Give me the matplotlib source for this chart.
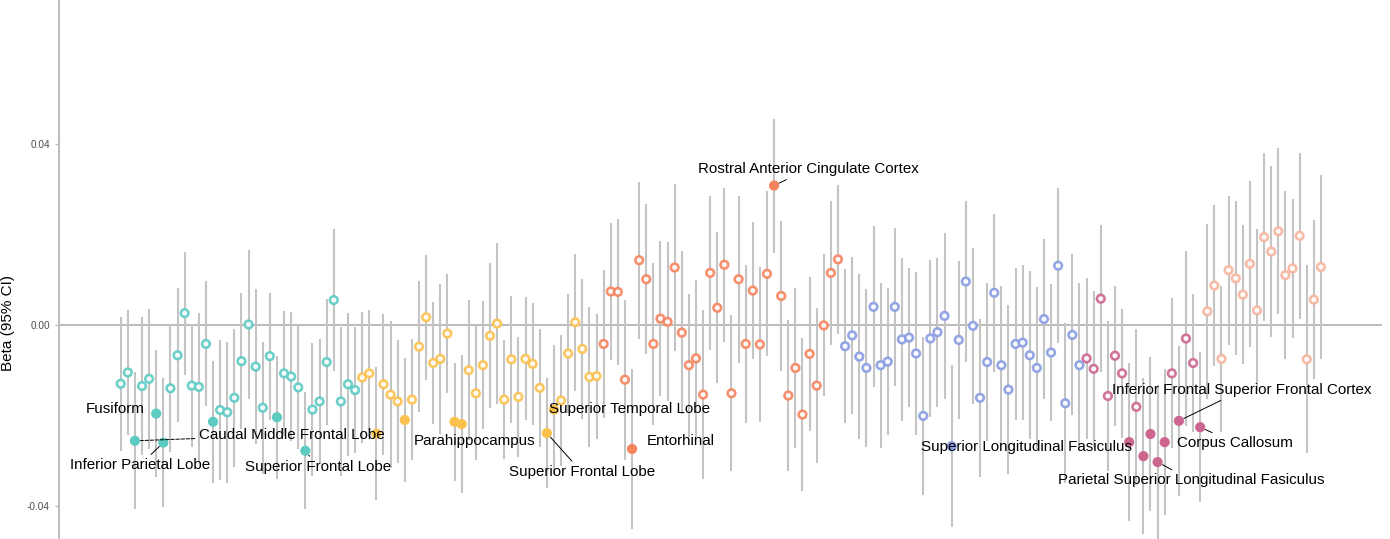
import numpy as np
import matplotlib
matplotlib.use("Agg")
import matplotlib.pyplot as plt

plt.rcParams["font.family"] = ["Liberation Sans", "DejaVu Sans"]

# region groups (in plotting order)
groups = ["teal", "yellow", "orange", "blue", "pink", "salmon"]
group_sizes = [34, 34, 34, 34, 17, 17]
group_colors = ["#5ECBC3", "#FAC14F", "#F5845E", "#8A9DE3", "#CC6690", "#F7B59E"]

beta = [
    # teal
    -0.0129, -0.0104, -0.0255, -0.0134, -0.0118, -0.0195, -0.0259, -0.0139, -0.0066, 0.0027,
    -0.0133, -0.0136, -0.0041, -0.0213, -0.0187, -0.0192, -0.0160, -0.0079, 0.0002, -0.0091,
    -0.0182, -0.0068, -0.0203, -0.0106, -0.0113, -0.0137, -0.0277, -0.0186, -0.0168, -0.0081,
    0.0056, -0.0168, -0.0130, -0.0143,
    # yellow
    -0.0115, -0.0106, -0.0239, -0.0130, -0.0153, -0.0168, -0.0209, -0.0164, -0.0047, 0.0018,
    -0.0083, -0.0074, -0.0018, -0.0213, -0.0218, -0.0099, -0.0150, -0.0088, -0.0023, 0.0004,
    -0.0164, -0.0075, -0.0158, -0.0074, -0.0085, -0.0138, -0.0238, -0.0186, -0.0166, -0.0062,
    0.0007, -0.0052, -0.0114, -0.0112,
    # orange
    -0.0041, 0.0075, 0.0074, -0.0120, -0.0273, 0.0144, 0.0102, -0.0041, 0.0015, 0.0008,
    0.0128, -0.0016, -0.0088, -0.0073, -0.0153, 0.0116, 0.0039, 0.0134, -0.0150, 0.0102,
    -0.0041, 0.0077, -0.0042, 0.0114, 0.0309, 0.0065, -0.0155, -0.0094, -0.0197, -0.0063,
    -0.0133, 0.0000, 0.0116, 0.0146,
    # blue
    -0.0046, -0.0022, -0.0069, -0.0094, 0.0041, -0.0088, -0.0080, 0.0041, -0.0031, -0.0027,
    -0.0062, -0.0200, -0.0029, -0.0015, 0.0021, -0.0267, -0.0032, 0.0097, -0.0001, -0.0160,
    -0.0081, 0.0072, -0.0088, -0.0142, -0.0041, -0.0038, -0.0066, -0.0094, 0.0014, -0.0060,
    0.0132, -0.0172, -0.0021, -0.0088,
    # pink
    -0.0073, -0.0096, 0.0059, -0.0156, -0.0067, -0.0106, -0.0258, -0.0180, -0.0289, -0.0240,
    -0.0302, -0.0258, -0.0106, -0.0211, -0.0029, -0.0083, -0.0225,
    # salmon
    0.0031, 0.0088, -0.0074, 0.0122, 0.0104, 0.0068, 0.0136, 0.0033, 0.0195, 0.0163,
    0.0208, 0.0111, 0.0126, 0.0198, -0.0075, 0.0057, 0.0129,
]

# half width of the 95% CI
ci_half = [
    # teal
    0.0148, 0.0139, 0.0151, 0.0153, 0.0155, 0.0141, 0.0142, 0.0140, 0.0148, 0.0136,
    0.0135, 0.0163, 0.0138, 0.0135, 0.0155, 0.0156, 0.0153, 0.0151, 0.0164, 0.0171,
    0.0146, 0.0140, 0.0136, 0.0138, 0.0142, 0.0136, 0.0129, 0.0146, 0.0137, 0.0139,
    0.0156, 0.0164, 0.0158, 0.0139,
    # yellow
    0.0145, 0.0140, 0.0147, 0.0156, 0.0162, 0.0136, 0.0136, 0.0134, 0.0145, 0.0138,
    0.0135, 0.0165, 0.0131, 0.0130, 0.0153, 0.0155, 0.0148, 0.0142, 0.0160, 0.0178,
    0.0131, 0.0141, 0.0133, 0.0136, 0.0135, 0.0131, 0.0121, 0.0142, 0.0144, 0.0131,
    0.0151, 0.0155, 0.0155, 0.0138,
    # orange
    0.0164, 0.0151, 0.0161, 0.0177, 0.0177, 0.0173, 0.0166, 0.0179, 0.0171, 0.0176,
    0.0184, 0.0180, 0.0158, 0.0174, 0.0186, 0.0171, 0.0167, 0.0170, 0.0172, 0.0184,
    0.0175, 0.0152, 0.0172, 0.0182, 0.0148, 0.0165, 0.0167, 0.0177, 0.0169, 0.0171,
    0.0171, 0.0157, 0.0159, 0.0164,
    # blue
    0.0170, 0.0173, 0.0182, 0.0175, 0.0178, 0.0182, 0.0162, 0.0175, 0.0181, 0.0154,
    0.0181, 0.0175, 0.0174, 0.0165, 0.0184, 0.0179, 0.0175, 0.0177, 0.0173, 0.0175,
    0.0175, 0.0175, 0.0176, 0.0186, 0.0167, 0.0172, 0.0186, 0.0179, 0.0176, 0.0151,
    0.0172, 0.0177, 0.0178, 0.0182,
    # pink
    0.0177, 0.0172, 0.0163, 0.0166, 0.0155, 0.0142, 0.0175, 0.0172, 0.0172, 0.0171,
    0.0170, 0.0161, 0.0166, 0.0165, 0.0194, 0.0153, 0.0166,
    # salmon
    0.0194, 0.0178, 0.0162, 0.0165, 0.0170, 0.0153, 0.0184, 0.0179, 0.0186, 0.0189,
    0.0183, 0.0185, 0.0154, 0.0183, 0.0208, 0.0176, 0.0203,
]

# 1-based positions of the significant (filled) estimates
significant = [3, 6, 7, 14, 23, 27, 37, 41, 48, 49, 61, 62, 73, 93, 118,
               143, 145, 146, 147, 148, 150, 153]

# label text, point it names, text centre (x index, beta), leader style
labels = [
    ("Fusiform", 6, (0.2, -0.0185), None),
    ("Caudal Middle Frontal Lobe", 3, (25.1, -0.0242), "dashed"),
    ("Inferior Parietal Lobe", 7, (3.7, -0.0309), "solid"),
    ("Superior Frontal Lobe", 27, (28.8, -0.0313), "solid"),
    ("Parahippocampus", 48, (50.8, -0.0256), None),
    ("Superior Temporal Lobe", 62, (72.6, -0.0185), None),
    ("Superior Frontal Lobe", 61, (65.9, -0.0324), "solid"),
    ("Entorhinal", 73, (79.8, -0.0256), None),
    ("Rostral Anterior Cingulate Cortex", 93, (97.8, 0.0345), "solid"),
    ("Superior Longitudinal Fasiculus", 118, (128.6, -0.0269), None),
    ("Inferior Frontal Superior Frontal Cortex", 150, (158.9, -0.0143), "solid"),
    ("Corpus Callosum", 153, (157.9, -0.0260), "solid"),
    ("Parietal Superior Longitudinal Fasiculus", 147, (151.7, -0.0342), "solid"),
]

beta = np.array(beta)
ci_half = np.array(ci_half)
x = np.arange(1, len(beta) + 1)
colors = np.repeat(group_colors, group_sizes)
sig = np.isin(x, significant)

fig = plt.figure(figsize=(13.9, 5.39), dpi=100)
ax = fig.add_axes([59 / 1390, 0, 1323 / 1390, 1])

ax.axhline(0, color="#bdbdbd", lw=1.5, zorder=1)
ax.vlines(x, beta - ci_half, beta + ci_half, color="#c4c4c4", lw=1.5, zorder=2)
ax.scatter(x[~sig], beta[~sig], s=30, facecolors="white", edgecolors=colors[~sig],
           linewidths=1.9, alpha=0.9, zorder=3)
ax.scatter(x[sig], beta[sig], s=40, facecolors=colors[sig], edgecolors=colors[sig],
           linewidths=1.0, zorder=3)

for text, idx, pos, style in labels:
    if style is None:
        ax.text(pos[0], pos[1], text, ha="center", va="center", fontsize=10.9, zorder=4)
    else:
        ax.annotate(text, xy=(idx, beta[idx - 1]), xytext=pos, ha="center", va="center",
                    fontsize=10.9, zorder=4,
                    arrowprops=dict(arrowstyle="-", color="black", lw=0.7, linestyle=style,
                                    shrinkA=1, shrinkB=4))

ax.set_xlim(-7.69, 178.6)
ax.set_ylim(-0.0472, 0.0719)
ax.set_yticks([-0.04, 0.0, 0.04])
ax.set_yticklabels(["-0.04", "0.00", "0.04"])
ax.tick_params(axis="y", colors="#bdbdbd", labelcolor="#4d4d4d", labelsize=7.2,
               length=3, width=1)
ax.set_xticks([])
ax.set_ylabel("Beta (95% CI)", fontsize=11)
ax.yaxis.set_label_coords(-0.0335, 0.40)

for side in ["top", "right", "bottom"]:
    ax.spines[side].set_visible(False)
ax.spines["left"].set_color("#bdbdbd")
ax.spines["left"].set_linewidth(1.5)

fig.savefig("out.png", dpi=100)
